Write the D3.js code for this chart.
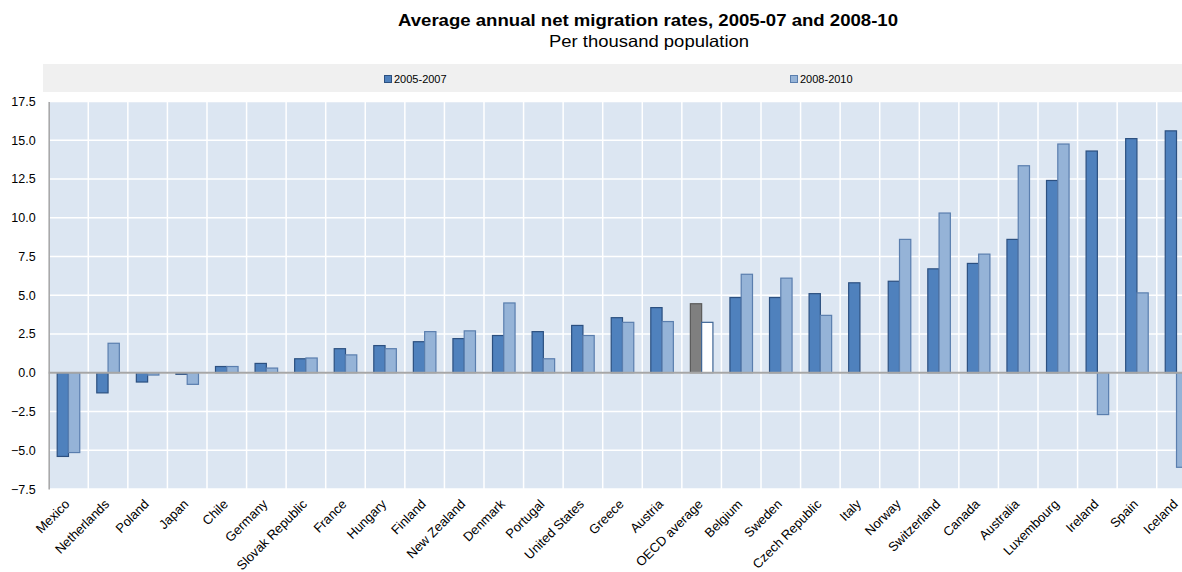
<!DOCTYPE html>
<html>
<head>
<meta charset="utf-8">
<script src="https://cdn.jsdelivr.net/npm/d3@7"></script>
<style>
  body { margin: 0; background: #fff; }
  svg { display: block; }
  text { font-family: "Liberation Sans", Arial, sans-serif; fill: #000; }
</style>
</head>
<body>
<svg id="chart" width="1182" height="572"></svg>
<script>
// Average annual net migration rates, per thousand population
const countries = [
  "Mexico", "Netherlands", "Poland", "Japan", "Chile", "Germany", "Slovak Republic",
  "France", "Hungary", "Finland", "New Zealand", "Denmark", "Portugal", "United States",
  "Greece", "Austria", "OECD average", "Belgium", "Sweden", "Czech Republic", "Italy",
  "Norway", "Switzerland", "Canada", "Australia", "Luxembourg", "Ireland", "Spain", "Iceland"
];
const rate2005_07 = [
  -5.4, -1.3, -0.6, -0.1, 0.4, 0.6, 0.9,
  1.55, 1.75, 2.0, 2.2, 2.4, 2.65, 3.05,
  3.55, 4.2, 4.45, 4.85, 4.85, 5.1, 5.8,
  5.9, 6.7, 7.05, 8.6, 12.4, 14.3, 15.1, 15.6
];
const rate2008_10 = [
  -5.15, 1.9, -0.15, -0.75, 0.4, 0.3, 0.95,
  1.15, 1.55, 2.65, 2.7, 4.5, 0.9, 2.4,
  3.25, 3.3, 3.25, 6.35, 6.1, 3.7, null,
  8.6, 10.3, 7.65, 13.35, 14.75, -2.7, 5.15, -6.1
];
const seriesNames = ["2005-2007", "2008-2010"];
const yTicks = [-7.5, -5, -2.5, 0, 2.5, 5, 7.5, 10, 12.5, 15, 17.5];
const averageLabel = "OECD average";

const svg = d3.select("#chart");

const plot = { left: 48.7, right: 1196.3, top: 101.4, bottom: 489 };

const x = d3.scaleBand().domain(countries).range([plot.left, plot.right]);
const y = d3.scaleLinear().domain([-7.5, 17.5]).range([plot.bottom, plot.top]);
const barW = x.bandwidth() * 0.285;

const colors = {
  darkFill: "#4f81bd", darkStroke: "#2c5080",
  lightFill: "#95b3d7", lightStroke: "#5a7eae",
  avgDarkFill: "#7f7f7f", avgDarkStroke: "#5a5a5a",
  avgLightFill: "#ffffff", avgLightStroke: "#3f6595",
  plotBg: "#dce6f2", grid: "#ffffff", axis: "#a6a6a6"
};

// Titles
svg.append("text")
  .attr("x", 648).attr("y", 26)
  .attr("text-anchor", "middle")
  .attr("textLength", 500).attr("lengthAdjust", "spacingAndGlyphs")
  .style("font-size", "16.5px").style("font-weight", "bold")
  .text("Average annual net migration rates, 2005-07 and 2008-10");
svg.append("text")
  .attr("x", 649).attr("y", 47)
  .attr("text-anchor", "middle")
  .attr("textLength", 200).attr("lengthAdjust", "spacingAndGlyphs")
  .style("font-size", "16.5px")
  .text("Per thousand population");

// Legend band
svg.append("rect")
  .attr("x", 43).attr("y", 64).attr("width", 1182 - 43).attr("height", 28)
  .attr("fill", "#f0f0f0");
const legendX = [384, 790];
seriesNames.forEach((name, i) => {
  const g = svg.append("g").attr("transform", `translate(${legendX[i]},75)`);
  g.append("rect").attr("x", 0.5).attr("y", 0.5).attr("width", 7).attr("height", 7)
    .attr("fill", i === 0 ? colors.darkFill : colors.lightFill)
    .attr("stroke", i === 0 ? colors.darkStroke : colors.lightStroke);
  g.append("text").attr("x", 10).attr("y", 8)
    .style("font-size", "11px").text(name);
});

// Plot background
svg.append("rect")
  .attr("x", plot.left).attr("y", plot.top)
  .attr("width", plot.right - plot.left).attr("height", plot.bottom - plot.top)
  .attr("fill", colors.plotBg);

// Horizontal gridlines
svg.append("g").selectAll("line").data(yTicks).join("line")
  .attr("x1", plot.left).attr("x2", plot.right)
  .attr("y1", d => y(d)).attr("y2", d => y(d))
  .attr("stroke", colors.grid).attr("stroke-width", 1.5);

// Vertical gridlines between categories
svg.append("g").selectAll("line").data(countries.slice(1)).join("line")
  .attr("x1", d => x(d)).attr("x2", d => x(d))
  .attr("y1", plot.top).attr("y2", plot.bottom)
  .attr("stroke", colors.grid).attr("stroke-width", 1.5);

// Bars
const rows = countries.map((c, i) => ({ c, a: rate2005_07[i], b: rate2008_10[i] }));
const center = c => x(c) + x.bandwidth() / 2;

const bars = svg.append("g");
bars.selectAll("rect.s0").data(rows).join("rect").attr("class", "s0")
  .attr("x", d => center(d.c) - barW)
  .attr("width", barW)
  .attr("y", d => y(Math.max(0, d.a)))
  .attr("height", d => Math.abs(y(d.a) - y(0)))
  .attr("fill", d => d.c === averageLabel ? colors.avgDarkFill : colors.darkFill)
  .attr("stroke", d => d.c === averageLabel ? colors.avgDarkStroke : colors.darkStroke)
  .attr("stroke-width", 1.2);
bars.selectAll("rect.s1").data(rows.filter(d => d.b !== null)).join("rect").attr("class", "s1")
  .attr("x", d => center(d.c))
  .attr("width", barW)
  .attr("y", d => y(Math.max(0, d.b)))
  .attr("height", d => Math.abs(y(d.b) - y(0)))
  .attr("fill", d => d.c === averageLabel ? colors.avgLightFill : colors.lightFill)
  .attr("stroke", d => d.c === averageLabel ? colors.avgLightStroke : colors.lightStroke)
  .attr("stroke-width", 1.2);

// Zero line
svg.append("line")
  .attr("x1", plot.left).attr("x2", plot.right)
  .attr("y1", y(0)).attr("y2", y(0))
  .attr("stroke", colors.axis).attr("stroke-width", 2);

// Y axis
const yAxis = d3.axisLeft(y).tickValues(yTicks).tickFormat(d3.format(".1f")).tickSize(0).tickPadding(13);
const yg = svg.append("g").attr("transform", `translate(${plot.left},0)`).call(yAxis);
yg.select(".domain").attr("stroke", colors.axis).attr("stroke-width", 1.5);
yg.selectAll("text").style("font-size", "12.5px").style("font-family", "'Liberation Sans', Arial, sans-serif").attr("fill", "#000");

// X category labels
svg.append("g").selectAll("text").data(countries).join("text")
  .attr("transform", d => `translate(${center(d) + 2},${plot.bottom + 16}) rotate(-45)`)
  .attr("text-anchor", "end")
  .style("font-size", "13px")
  .text(d => d);
</script>
</body>
</html>
